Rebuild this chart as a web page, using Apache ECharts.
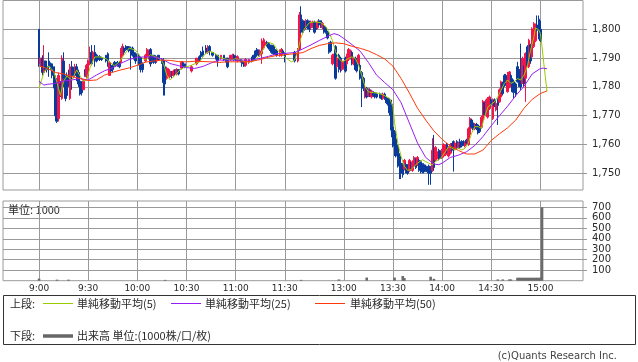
<!DOCTYPE html>
<html><head><meta charset="utf-8">
<script src="https://cdn.jsdelivr.net/npm/echarts@6/dist/echarts.min.js"></script>
<style>html,body{margin:0;padding:0;background:#fff}#c{width:638px;height:362px}</style>
</head><body><div id="c"></div>
<script>
const tickLabels = ['9:00','9:30','10:00','10:30','11:00','11:30','13:00','13:30','14:00','14:30','15:00'];
const priceTicks = [1750,1760,1770,1780,1790,1800];
const volumeTicks = [100,200,300,400,500,600,700];

// one row per minute from 9:00 to 11:30: [open, close, low, high]
const amCandles = [
[1800,1788,1787,1800],[1788,1790,1787,1790],[1790,1785,1784,1791],[1785,1789,1785,1794.5],[1789,1786,1785.5,1789],
[1787,1786,1785,1788],[1789,1787,1783.5,1792],[1788,1787,1786,1788.5],[1788,1784,1783,1788],[1787,1780,1779.5,1787],
[1783,1770,1768,1784],[1775,1768,1767.5,1776],[1769,1784,1768,1785],[1781,1777,1776.5,1782],[1776,1790,1775.5,1791],
[1789,1783,1780,1792],[1783,1776,1775,1784],[1782,1777,1776,1785],[1784,1781,1780,1786],[1776,1787,1775.5,1788],
[1787,1784,1779,1789],[1786,1784,1783,1787],[1784,1787,1783.5,1788],[1787,1784,1782,1788],[1785,1781,1780,1786],
[1782,1777.5,1777,1783],[1781,1778,1777,1782],[1779,1782,1779,1782.5],[1786,1784,1783.5,1786],[1783.5,1787.5,1783,1788],
[1784,1789,1783,1789.5],[1788,1791,1787.5,1794],[1792,1788,1787.5,1794.5],[1789.5,1792,1789,1792.5],[1792,1789,1787,1794.5],
[1791,1789,1788.5,1791.5],[1790.5,1789.5,1789,1791],[1790.5,1789.5,1789,1791],[1790,1789.5,1789,1790.5],null,
null,[1791,1789,1788.5,1791],[1791.5,1789,1787,1792],[1784,1788.5,1784,1789],[1787.5,1785.5,1785,1788],
[1787.5,1786,1785,1788],[1788.5,1787.5,1787,1789],[1788.5,1787.5,1787,1788.5],[1788.5,1787.5,1787,1789],[1788.5,1787,1786.5,1789],
[1788.5,1793,1788.5,1793.5],[1791,1794,1790.5,1795],[1793.5,1792,1791.5,1794],[1794,1793,1792.5,1794.5],[1794,1793,1792.5,1794],
[1794,1792.5,1792,1794],[1793.5,1792.5,1786,1794],[1793.5,1791,1790.5,1794],[1792,1790,1789.5,1792.5],[1791.5,1789,1788,1792],
null,[1791,1788,1787.5,1791.5],[1790,1786,1785,1790.5],[1788,1786,1785,1788.5],null,
[1789,1791,1788.5,1791.5],[1790.5,1793,1790,1793.5],[1790,1792.5,1789.5,1793],[1793,1788,1787,1793.5],[1791,1788.5,1788,1791.5],
[1791,1789,1788,1791],[1790.5,1788.5,1788,1791],[1789,1790,1788.5,1790.5],[1791,1789.5,1789,1791],null,
[1789.5,1788.5,1788,1790],[1789,1781.5,1777,1790],[1787,1781,1777,1788],[1783,1786.5,1782.5,1787],[1784,1786,1783.5,1786.5],
[1783.5,1785.5,1783,1786],[1785,1784,1783,1785.5],[1784,1785.5,1783.5,1786],[1786,1784.5,1784,1786],[1784.5,1786,1784,1786.5],
[1786,1784.5,1784,1786],null,[1786.5,1788.5,1786,1789],[1788.5,1787,1786.5,1789],[1788,1787,1786.5,1788],
null,null,null,[1785.5,1787,1785,1787.5],null,
null,[1788,1790,1787.5,1790],[1788.5,1789.5,1788,1790],[1790.5,1789.5,1789,1791],[1792,1790.5,1790,1792.5],
[1792.5,1791,1790.5,1794],null,[1793.5,1792,1791.5,1794.5],[1792,1793.5,1791.5,1794.5],[1794,1792.5,1791,1794.5],
null,[1792,1791,1790.5,1792],null,[1791,1790,1789.5,1791.5],[1791,1789,1787,1791],
null,[1790,1791,1789.5,1791],null,[1791,1789.5,1789,1791],[1790,1789,1788.5,1790],
[1790,1787,1786.5,1790],null,[1789.5,1791,1789,1791],[1790,1791,1789.5,1791.5],[1791,1789.5,1789,1791.5],
[1790.5,1789.5,1789,1791],[1789,1790.5,1788.5,1791],null,[1789.5,1789,1788.5,1789.5],[1789,1788,1787,1789],
[1788.7,1787.2,1787,1788.7],[1787.5,1789.5,1787,1790],null,[1788.5,1789.5,1788,1789.5],null,
[1790,1789,1788.5,1790.5],[1791,1789.5,1789,1791],[1792.5,1790.5,1790,1792.7],[1793,1791.5,1791,1793.5],[1792.5,1791,1790.5,1793],
[1791,1792.5,1790.5,1793],[1791.5,1793.5,1788,1796.8],[1793.5,1796,1793,1797],[1794.5,1795.5,1794,1796.5],[1795.5,1794.5,1794,1796],
[1795,1793.5,1793,1795.5],[1794.5,1793,1792.5,1795],[1794.5,1792,1791.5,1794.5],[1794,1791.5,1791,1794.5],[1793,1791.5,1791,1793.5],
[1792.5,1791,1790.5,1793],null,[1791,1792.5,1790.5,1793],[1791,1793,1790.5,1793.5],[1792.5,1791.5,1791,1793],
[1791.5,1790.5,1788.5,1792]
];

// one row per minute from 12:30 to 15:00: [open, close, low, high]
const pmCandles = [
[1792,1789,1788.5,1792.5],null,[1789,1793,1788.5,1793.5],[1793,1805,1792.5,1806],[1805,1799,1798.5,1808],
[1803,1799,1798.5,1803.5],[1802.5,1800,1799.5,1803],[1800.5,1803,1800,1803.5],[1803,1800.5,1800,1803.5],[1802.5,1800,1799,1803],
[1800.5,1802.5,1800,1803],[1801,1802.5,1800.5,1803],[1802.5,1799,1798.5,1803],[1802,1800,1799.5,1802.5],[1800.5,1802.5,1800,1803],
[1803,1801.5,1801,1803.5],[1803,1801,1800.5,1803],[1800.5,1802,1800,1802.5],[1801,1799,1798.5,1801.5],[1800.5,1799,1798.5,1801],
[1799,1797,1796.5,1799.5],[1795,1792,1791.5,1795.5],[1795.5,1792.5,1792,1796],[1788,1791,1787.5,1791.5],[1789,1791,1788.5,1791.5],
[1794,1783,1782.5,1794.5],[1787,1790,1786.5,1790.5],[1791,1786,1785,1791.5],[1790,1787,1785,1790.5],[1786,1789,1785.5,1789.5],
[1786.5,1788.5,1786,1789],[1790,1785.5,1785,1790.5],[1788,1791,1787.5,1791.5],[1789.5,1793,1789,1793.5],[1790,1792.5,1789.5,1793],
[1792,1788,1787.5,1792.5],[1788,1790,1787.5,1790.5],[1790,1786,1785.5,1790.5],[1789.5,1785.5,1785,1790],[1788,1791,1787.5,1791.5],
[1787.5,1783,1782.5,1788],[1785,1781,1773,1785.5],[1783,1779.5,1778.5,1783.5],[1776.5,1779.5,1776,1780],[1779.5,1776.5,1776,1780],
[1777,1779,1776.5,1779.5],[1779,1777,1776.5,1779.5],[1776.5,1778.5,1776,1779],[1778,1777,1776.5,1778.5],[1778,1776.5,1776,1778],
[1777.5,1776.5,1776,1778],null,[1777.5,1776.5,1776,1778],[1777.5,1776,1775.5,1777.5],[1776,1777.5,1775.5,1778],
[1777.5,1776,1775.5,1778],[1776,1774.5,1774,1776.5],[1776,1774,1773.5,1776],[1775.5,1771,1770,1776],[1774,1765,1762.5,1775.5],
[1766,1761,1759,1767],[1764.5,1759.5,1756,1765],[1762,1756,1755.5,1764.5],[1759.5,1753,1752,1760],[1756,1752.5,1748,1757],
[1753.5,1750,1748,1754],[1753,1749.5,1748.5,1753.5],[1751.5,1754.5,1751,1755],[1753,1750.5,1750,1753.5],[1753,1750,1749.5,1753],
[1751,1754.5,1750.5,1755],[1753.5,1751.5,1751,1754],[1751,1754,1750.5,1754.5],[1752.5,1755.5,1752,1756],[1755,1752,1751.5,1755.5],
[1753,1755.5,1752.5,1756],[1754.5,1751,1750.5,1755],[1754,1750.5,1750,1754.5],[1753,1750.5,1750,1753.5],[1753,1750.5,1750,1753.5],
[1752.5,1751,1750.5,1753],[1752,1750.5,1750,1752.5],[1752.5,1750,1746,1753],[1752,1750,1746,1752.5],[1751,1758,1750.5,1762.2],
[1758,1752,1751,1763.3],[1754.7,1759,1754,1759.5],[1755,1757.5,1754.5,1758],[1758,1755,1754.5,1758.5],[1757.5,1755.5,1755,1758],
[1755.5,1758,1755,1758.5],[1756,1760,1755.5,1760.4],[1756.5,1759.5,1756,1760],[1760,1757.5,1757,1760.5],[1756,1759,1755.5,1759.5],
[1757,1760,1756.5,1760.5],[1760,1758,1757.5,1760.5],[1761,1758.5,1750.6,1761.4],[1758.5,1760.5,1758,1761],[1761,1759,1758.5,1761.5],
[1759,1760.5,1758.5,1761],[1761,1759,1758.5,1762],[1761,1759.5,1759,1761.5],[1761,1760,1759.5,1761.5],[1759.5,1760.5,1759,1761],
[1761.5,1760.5,1760,1762],[1760,1765.5,1759.5,1766],[1763.5,1769,1763,1769.5],[1768.5,1766,1765.5,1769],[1767.5,1765.5,1765,1768],
[1765.5,1767,1765,1767.5],[1767,1765.5,1765,1767.5],[1766.8,1764,1763.5,1767],[1766,1764.5,1764,1766.5],[1766,1769.5,1765.5,1770],
[1768.5,1775,1768,1775.5],[1774.5,1770.5,1770,1775],[1770,1775.5,1769.5,1776],[1769.5,1776,1769,1776.5],[1772.5,1776.5,1772,1777],
[1775.5,1774,1773.5,1776],[1769,1775.5,1768.5,1776],[1775.5,1773.5,1773,1776],[1772,1774.3,1771.5,1774.8],[1775.5,1773.5,1766.8,1776],
[1774.8,1779,1774.5,1779.5],[1776.5,1781.8,1776,1782.2],[1781.2,1777.7,1777,1781.8],[1784,1780.5,1780,1784.5],[1784,1781,1780.5,1784.5],
[1778.3,1782.4,1778,1785.2],[1780,1785.2,1779.5,1785.5],[1784,1781.5,1781,1784.5],[1782.4,1778.3,1778,1783],[1781.8,1778,1776,1782.5],
[1781,1777.5,1776.5,1781.5],[1787,1781.8,1781.5,1788.7],[1786,1780.5,1780,1787],[1786,1780,1778.9,1795],[1781.2,1789.9,1781,1790.5],
[1787,1781,1780,1787.5],[1783,1791.6,1774.8,1792],[1793.9,1787.5,1787,1794.5],[1787,1796.2,1786.5,1796.7],[1794.5,1789,1788,1795],
[1790.4,1800.2,1790,1800.7],[1794,1802,1793.5,1802.5],[1796,1801.5,1795.5,1802],[1801.5,1799.7,1799.2,1804.8],[1803.5,1797,1796.5,1804.8],
[1800,1796,1795.6,1803]
];

const ma5Times = ['9:00','9:03','9:06','9:09','9:11','9:13','9:15','9:17','9:20','9:23','9:25','9:27','9:29','9:31','9:34','9:37','9:41','9:43','9:46','9:49','9:52','9:55','9:59','10:02','10:05','10:08','10:11','10:14','10:16','10:18','10:20','10:23','10:26','10:29','10:32','10:35','10:38','10:41','10:44','10:47','10:50','10:53','10:57','11:00','11:03','11:06','11:09','11:12','11:15','11:18','11:20','11:23','11:26','11:28','11:30','11:32','11:34','12:30','12:32','12:34','12:36','12:39','12:42','12:46','12:49','12:51','12:53','12:55','12:57','12:59','13:01','13:03','13:05','13:07','13:09','13:11','13:13','13:15','13:18','13:21','13:24','13:28','13:30','13:31','13:33','13:35','13:37','13:39','13:41','13:43','13:45','13:48','13:50','13:52','13:54','13:56','13:58','14:00','14:02','14:04','14:06','14:08','14:10','14:12','14:14','14:16','14:18','14:20','14:22','14:24','14:26','14:28','14:30','14:32','14:34','14:36','14:38','14:40','14:42','14:44','14:46','14:48','14:50','14:52','14:54','14:56','14:57','14:59','15:00','15:01','15:02','15:03','15:04'];
const ma5Values = [1779.6,1785,1787.3,1785.2,1781.5,1777,1782,1783.8,1782.4,1785.9,1783.8,1782,1782.4,1786.5,1790.4,1790.4,1789.8,1788.7,1787.3,1788.7,1791.2,1793.5,1792.7,1790.4,1789.3,1791.2,1790.4,1789.8,1788,1784,1782.4,1784,1785.9,1786.9,1787.3,1788,1788.7,1791.2,1792.4,1791.7,1790.4,1789.8,1789.3,1789.8,1789.3,1788.7,1788.7,1789.3,1791.2,1794.3,1795.5,1794.9,1792.4,1791.7,1790.4,1789.5,1788.7,1789.3,1792.7,1797.3,1800.2,1802.3,1802.6,1802.3,1801,1799,1796.2,1792.2,1789.9,1788.7,1789.3,1789.9,1790.4,1789.9,1787.5,1784,1780,1778.3,1778,1777.8,1777.2,1776,1773.1,1767.5,1760.4,1755.8,1752.4,1751,1751.3,1752.4,1753.5,1754.7,1754.1,1753.5,1752.9,1754.1,1754.7,1755.8,1757.5,1759.3,1758.7,1758.1,1758.7,1758.1,1758.7,1760.4,1763.9,1766.2,1766.2,1765.6,1769.7,1773.1,1774,1774.8,1776.6,1778.9,1781.2,1782.4,1781.2,1781.8,1782.9,1782.4,1784.1,1787,1792.7,1797.3,1800.5,1799.8,1798.5,1794,1788.5,1783.5,1778.5];

const ma25Times = ['9:00','9:03','9:05','9:10','9:15','9:20','9:25','9:30','9:35','9:40','9:45','9:50','9:55','10:00','10:05','10:10','10:15','10:20','10:25','10:30','10:35','10:40','10:45','10:50','10:55','11:00','11:05','11:10','11:15','11:20','11:25','11:30','11:33','12:30','12:35','12:40','12:45','12:50','12:54','12:57','13:00','13:05','13:10','13:15','13:20','13:25','13:30','13:35','13:40','13:45','13:50','13:55','13:58','14:00','14:05','14:10','14:15','14:20','14:25','14:30','14:35','14:40','14:45','14:50','14:55','15:00','15:02','15:04'];
const ma25Values = [1782,1780.6,1780.9,1781.2,1782,1782.4,1782.9,1782.4,1784.1,1785.6,1786.6,1788.2,1789.5,1790.3,1790.4,1790.4,1789.7,1788.1,1787.4,1786.7,1786.4,1787.1,1788.3,1789.3,1789.3,1789.3,1789.3,1789.3,1789.9,1790.6,1791.5,1791.6,1791.8,1791.9,1793.2,1794.6,1796.1,1797.5,1798.5,1798,1796.8,1794.7,1792.4,1788.5,1784.1,1781.5,1779,1774.5,1767.5,1760.5,1755.5,1753.2,1753,1753.5,1755.5,1756.3,1757.5,1759.7,1762.8,1766.5,1770,1773.3,1777,1780.2,1784.5,1786.4,1786.5,1786.3];

const ma50Times = ['9:00','9:05','9:10','9:15','9:20','9:25','9:30','9:35','9:40','9:45','9:50','9:55','10:00','10:05','10:10','10:15','10:20','10:25','10:30','10:35','10:40','10:45','10:50','10:55','11:00','11:05','11:10','11:15','11:20','11:25','11:30','12:30','12:35','12:40','12:45','12:50','12:55','13:00','13:05','13:10','13:15','13:20','13:25','13:30','13:35','13:40','13:45','13:50','13:55','14:00','14:05','14:10','14:15','14:20','14:25','14:30','14:35','14:40','14:45','14:50','14:55','15:00','15:04'];
const ma50Values = [1787.3,1786.4,1785,1784.5,1783.6,1782.9,1782.2,1782.4,1784.1,1785.1,1785.9,1786.6,1787.5,1788.6,1789,1789.3,1789.2,1788.8,1788.7,1788.9,1788.8,1788.7,1788.5,1788.7,1788.7,1788.7,1788.9,1789.5,1790.3,1790.9,1791.2,1791.5,1791.9,1793.3,1794.4,1795,1795.3,1795,1794.1,1793.4,1792.5,1791.2,1789.7,1787.2,1782.9,1777.9,1772.6,1768.5,1764.7,1761.8,1759.5,1757.9,1756.7,1756.7,1758.1,1761.4,1763.7,1765.8,1768.5,1772.6,1775.7,1777.7,1778.6];

const volTimes = ['9:00','9:11','9:18','10:17','12:34','12:57','13:14','13:31','13:36','13:37','13:53','13:55','14:34','14:37','14:41','14:42','14:46','14:47','14:48','14:49','14:50','14:51','14:52','14:53','14:54','14:55','14:56','14:57','14:58','14:59','15:00','15:01'];
const volValues = [20,10,10,8,8,12,30,30,45,25,38,18,12,12,12,12,28,28,28,28,28,28,28,28,28,28,28,28,28,28,28,700];

// ---- build category axis (one slot per minute, lunch gap compressed) ----
function hm(t){ return Math.floor(t/60) + ':' + String(t%60).padStart(2,'0'); }
const categories = [];
for (let t = 8*60+38; t <= 11*60+35; t++) categories.push(hm(t));
for (let t = 12*60+30; t <= 15*60+26; t++) categories.push(hm(t));
const N = categories.length;
const idx = {}; categories.forEach((c,i)=>{ idx[c] = i; });

const candleData = categories.map(()=>['-','-','-','-']);
amCandles.forEach((r,m)=>{ if (r) candleData[idx[hm(540+m)]] = r; });
pmCandles.forEach((r,n)=>{ if (r) candleData[idx[hm(750+n)]] = r; });
function seriesFrom(times, vals){ const d = new Array(N).fill('-'); times.forEach((t,i)=>{ d[idx[t]] = vals[i]; }); return d; }

const UP = '#f2154a', DOWN = '#0a3a9c', GRID = '#9a9a9a', TXT = '#2a2a2a';
const isTick = (i, v) => tickLabels.indexOf(v) >= 0;

function xAxis(gi, labels){
  return { type:'category', gridIndex:gi, data:categories, boundaryGap:false,
    axisLine:{show:false}, axisTick:{show:false},
    axisLabel:{show:labels, interval:isTick, color:TXT, fontSize:9, fontFamily:'DejaVu Sans', margin:3},
    splitLine:{show:true, interval:isTick, lineStyle:{color:GRID, width:1}} };
}

const chart = echarts.init(document.getElementById('c'), null, {renderer:'canvas'});
const jp = '11px "Noto Sans CJK JP"';
chart.setOption({
  animation:false,
  grid:[
    {left:3, right:55, top:0.5, height:189.5, show:true, borderColor:GRID, borderWidth:1},
    {left:3, right:55, top:201, height:79.7, show:true, borderColor:GRID, borderWidth:1}
  ],
  xAxis:[xAxis(0,false), xAxis(1,true)],
  yAxis:[
    { type:'value', gridIndex:0, position:'right', min:1744.2, max:1810,
      axisLine:{show:false},
      axisTick:{show:true, inside:false, length:4, customValues:priceTicks, lineStyle:{color:GRID}},
      axisLabel:{customValues:priceTicks, color:TXT, fontSize:10, fontFamily:'DejaVu Sans', margin:9,
        formatter:v=>String(v).replace(/\B(?=(\d{3})+(?!\d))/g, ',')},
      splitLine:{show:true, lineStyle:{color:GRID, width:1}} },
    { type:'value', gridIndex:1, position:'right', min:0, max:760,
      axisLine:{show:false},
      axisTick:{show:true, inside:false, length:4, customValues:volumeTicks, lineStyle:{color:GRID}},
      axisLabel:{customValues:volumeTicks, color:TXT, fontSize:10, fontFamily:'DejaVu Sans', margin:9},
      splitLine:{show:true, lineStyle:{color:GRID, width:1}} }
  ],
  series:[
    { type:'candlestick', xAxisIndex:0, yAxisIndex:0, data:candleData, barWidth:2,
      itemStyle:{color:UP, color0:DOWN, borderColor:UP, borderColor0:DOWN, borderWidth:1} },
    { type:'line', xAxisIndex:0, yAxisIndex:0, data:seriesFrom(ma5Times, ma5Values), connectNulls:true, showSymbol:false, symbol:'none',
      lineStyle:{color:'#99cc00', width:1}, z:3 },
    { type:'line', xAxisIndex:0, yAxisIndex:0, data:seriesFrom(ma25Times, ma25Values), connectNulls:true, showSymbol:false, symbol:'none',
      lineStyle:{color:'#9a1cf5', width:1}, z:3 },
    { type:'line', xAxisIndex:0, yAxisIndex:0, data:seriesFrom(ma50Times, ma50Values), connectNulls:true, showSymbol:false, symbol:'none',
      lineStyle:{color:'#ff3a0a', width:1}, z:3 },
    { type:'bar', xAxisIndex:1, yAxisIndex:1, data:seriesFrom(volTimes, volValues), barWidth:2.6,
      itemStyle:{color:'#6b6b6b'} }
  ],
  graphic:[
    {type:'text', x:8, y:209.5, silent:true, style:{text:'単位: 1000', font:jp, fill:TXT, textVerticalAlign:'middle', verticalAlign:'middle'}},
    {type:'rect', silent:true, shape:{x:3.5, y:295.5, width:632, height:49}, style:{fill:'none', stroke:'#333', lineWidth:1}},
    {type:'text', x:10, y:303.5, silent:true, style:{text:'上段:', font:jp, fill:TXT, textVerticalAlign:'middle', verticalAlign:'middle'}},
    {type:'line', silent:true, shape:{x1:43, y1:303.5, x2:73, y2:303.5}, style:{stroke:'#99cc00', lineWidth:1}},
    {type:'text', x:77, y:303.5, silent:true, style:{text:'単純移動平均(5)', font:jp, fill:TXT, textVerticalAlign:'middle', verticalAlign:'middle'}},
    {type:'line', silent:true, shape:{x1:171, y1:303.5, x2:201, y2:303.5}, style:{stroke:'#9a1cf5', lineWidth:1}},
    {type:'text', x:205, y:303.5, silent:true, style:{text:'単純移動平均(25)', font:jp, fill:TXT, textVerticalAlign:'middle', verticalAlign:'middle'}},
    {type:'line', silent:true, shape:{x1:315, y1:303.5, x2:345, y2:303.5}, style:{stroke:'#ff3a0a', lineWidth:1}},
    {type:'text', x:350, y:303.5, silent:true, style:{text:'単純移動平均(50)', font:jp, fill:TXT, textVerticalAlign:'middle', verticalAlign:'middle'}},
    {type:'text', x:10, y:336, silent:true, style:{text:'下段:', font:jp, fill:TXT, textVerticalAlign:'middle', verticalAlign:'middle'}},
    {type:'line', silent:true, shape:{x1:43, y1:336, x2:73, y2:336}, style:{stroke:'#666', lineWidth:3.5}},
    {type:'text', x:77, y:336, silent:true, style:{text:'出来高 単位:(1000株/口/枚)', font:jp, fill:TXT, textVerticalAlign:'middle', verticalAlign:'middle'}},
    {type:'text', x:617, y:356, silent:true, style:{text:'(c)Quants Research Inc.', font:'10px "DejaVu Sans"', fill:'#444', textAlign:'right', align:'right', textVerticalAlign:'middle', verticalAlign:'middle'}}
  ]
});
</script>
</body></html>
